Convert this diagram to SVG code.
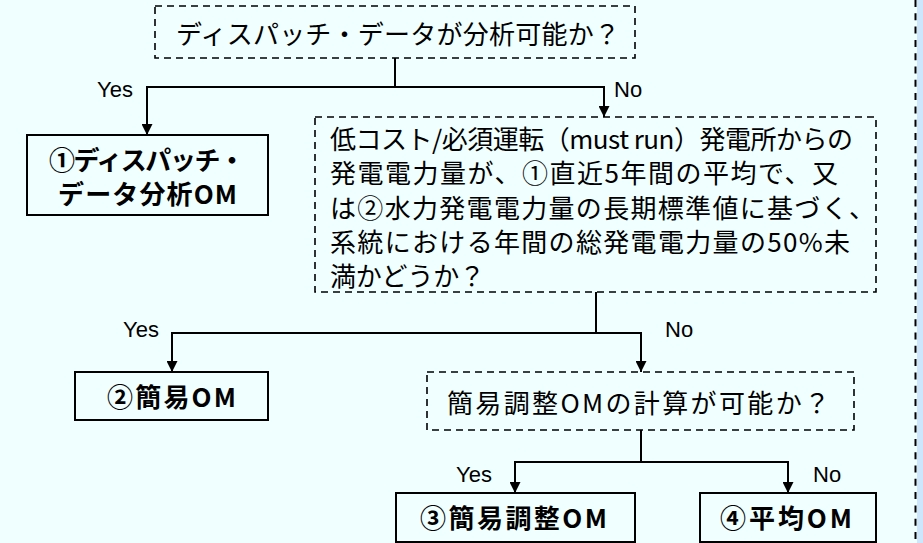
<svg xmlns="http://www.w3.org/2000/svg" width="923" height="543" viewBox="0 0 923 543">
<defs>
<marker id="arr" markerUnits="userSpaceOnUse" markerWidth="12" markerHeight="11" refX="11" refY="5.5" orient="auto">
<path d="M0,0 L11,5.5 L0,11 z" fill="#000"/>
</marker>
<style>
.bg{fill:#F0FFFF}
.side{fill:#CDE6FB}
.edge{stroke:#000;stroke-width:2;stroke-dasharray:7 6.3;fill:none}
.q{fill:none;stroke:#000;stroke-width:1.6;stroke-dasharray:7 5}
.r{fill:none;stroke:#000;stroke-width:2}
.c{fill:none;stroke:#000;stroke-width:2;marker-end:url(#arr)}
.t{font-family:"Noto Sans CJK JP","Noto Sans",sans-serif;font-size:26px;fill:#000}
.b{font-family:"Noto Sans CJK JP","Noto Sans",sans-serif;font-size:26px;font-weight:bold;fill:#000}
.l{font-family:"Liberation Sans",Arial,sans-serif;font-size:22px;fill:#000}
</style>
</defs>
<rect class="bg" x="0" y="0" width="923" height="543"/>
<rect class="side" x="917" y="0" width="6" height="543"/>
<line class="edge" x1="915.5" y1="0" x2="915.5" y2="543"/>

<g id="connectors">
<path class="c" d="M395,58 V87 H147 V135"/>
<path class="c" d="M395,87 H604 V117"/>
<path class="c" d="M596,292 V333 H172 V372"/>
<path class="c" d="M596,333 H641 V372"/>
<path class="c" d="M641,430 V462 H515 V493"/>
<path class="c" d="M641,462 H788 V493"/>
<text class="l" x="133" y="97" text-anchor="end">Yes</text>
<text class="l" x="614" y="97">No</text>
<text class="l" x="159" y="337" text-anchor="end">Yes</text>
<text class="l" x="665" y="337">No</text>
<text class="l" x="492" y="482" text-anchor="end">Yes</text>
<text class="l" x="813" y="482">No</text>
</g>

<g id="q1">
<rect class="q" x="155" y="6" width="480" height="52"/>
<text class="t" x="176" y="44" textLength="444" lengthAdjust="spacing">ディスパッチ・データが分析可能か？</text>
</g>

<g id="om1">
<rect class="r" x="27" y="135" width="241" height="80"/>
<text class="b" x="49" y="170" textLength="196" lengthAdjust="spacing">①ディスパッチ・</text>
<text class="b" x="58" y="204" textLength="179" lengthAdjust="spacing">データ分析OM</text>
</g>

<g id="q2">
<rect class="q" x="315" y="117" width="561" height="175"/>
<text class="t" x="330" y="149" textLength="523" lengthAdjust="spacing">低コスト/必須運転（must run）発電所からの</text>
<text class="t" x="330" y="183" textLength="508" lengthAdjust="spacing">発電電力量が、①直近5年間の平均で、又</text>
<text class="t" x="330" y="218" textLength="545" lengthAdjust="spacing">は②水力発電電力量の長期標準値に基づく、</text>
<text class="t" x="330" y="252" textLength="520" lengthAdjust="spacing">系統における年間の総発電電力量の50%未</text>
<text class="t" x="330" y="286" textLength="155" lengthAdjust="spacing">満かどうか？</text>
</g>

<g id="om2">
<rect class="r" x="75" y="372" width="193" height="48"/>
<text class="b" x="107" y="407" textLength="129" lengthAdjust="spacing">②簡易OM</text>
</g>

<g id="q3">
<rect class="q" x="427" y="372" width="427" height="58"/>
<text class="t" x="447" y="413" textLength="383" lengthAdjust="spacing">簡易調整OMの計算が可能か？</text>
</g>

<g id="om3">
<rect class="r" x="396" y="493" width="239" height="49"/>
<text class="b" x="420" y="528" textLength="187" lengthAdjust="spacing">③簡易調整OM</text>
</g>

<g id="om4">
<rect class="r" x="700" y="493" width="176" height="49"/>
<text class="b" x="720" y="528" textLength="132" lengthAdjust="spacing">④平均OM</text>
</g>
</svg>
